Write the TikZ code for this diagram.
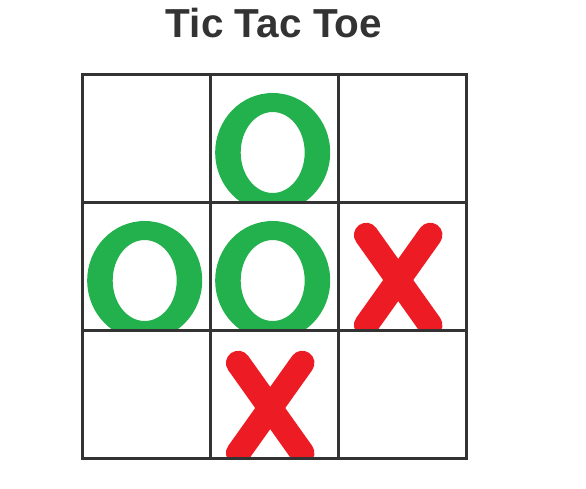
\documentclass[tikz,border=0pt]{standalone}
\usepackage{fontspec}
\setmainfont{Liberation Sans}
\definecolor{gridc}{HTML}{333333}
\definecolor{ogreen}{HTML}{22B14C}
\definecolor{xred}{HTML}{ED1C24}
\tikzset{
  cellbox/.style={minimum size=128pt, inner sep=0pt, anchor=north west, draw=none},
  gridline/.style={draw=gridc, line width=3pt},
  omark/.style={fill=ogreen, even odd rule},
  xmark/.style={draw=xred, line width=24.5pt, line cap=round},
}
\newcommand\drawO[1]{%
  \begin{scope}
    \clip (#1.north west) rectangle (#1.south east);
    \begin{scope}[shift={(#1.north)}]
      \path[omark] (-1.5,78.5) ellipse [x radius=57.5, y radius=59.5]
                   (-1.5,78.5) ellipse [x radius=32, y radius=40.5];
    \end{scope}
  \end{scope}}
\newcommand\drawX[1]{%
  \begin{scope}
    \clip (#1.north west) rectangle (#1.south east);
    \begin{scope}[shift={(#1.north)}]
      \path[xmark] (-36,33) -- (28,123);
      \path[xmark] (28,33) -- (-36,123);
    \end{scope}
  \end{scope}}
\begin{document}
\begin{tikzpicture}[x=1pt,y=-1pt]
\useasboundingbox (0,0) rectangle (586,488);
\fill[white] (0,0) rectangle (586,488);
\node[font=\bfseries\fontsize{40.5}{48}\selectfont, text=gridc, anchor=base, inner sep=0pt] (title) at (274,37) {Tic Tac Toe};
\foreach \r in {0,1,2}{
  \foreach \c in {0,1,2}{
    \node[cellbox] (c\r\c) at (82+128*\c, 74+128*\r) {};
  }
}
\drawO{c01}
\drawO{c10}
\drawO{c11}
\drawX{c12}
\drawX{c21}
\foreach \r in {0,1,2}{
  \foreach \c in {0,1,2}{
    \draw[gridline] (c\r\c.north west) rectangle (c\r\c.south east);
  }
}
\end{tikzpicture}
\end{document}
